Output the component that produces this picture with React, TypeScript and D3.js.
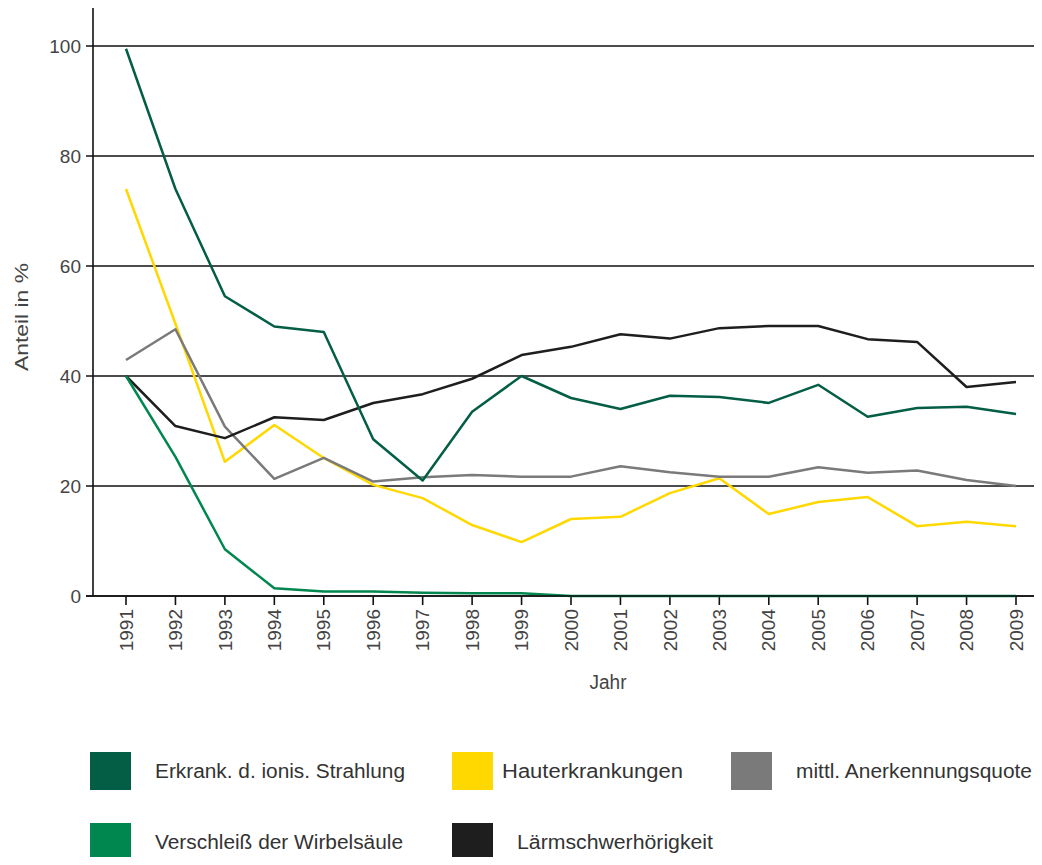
import React, { useEffect, useRef } from 'react';
import * as d3 from 'd3';

const years = [
  1991, 1992, 1993, 1994, 1995, 1996, 1997, 1998, 1999, 2000,
  2001, 2002, 2003, 2004, 2005, 2006, 2007, 2008, 2009,
];

const strahlung = [
  99.5, 74, 54.5, 49, 48, 28.5, 21, 33.5, 40, 36,
  34, 36.4, 36.2, 35.1, 38.4, 32.6, 34.2, 34.4, 33.1,
];
const haut = [
  74, 49.5, 24.4, 31.1, 25.1, 20.2, 17.8, 12.9, 9.8, 14,
  14.4, 18.7, 21.4, 14.9, 17.1, 18, 12.7, 13.5, 12.7,
];
const quote = [
  42.9, 48.5, 30.8, 21.3, 25.1, 20.8, 21.6, 22, 21.7, 21.7,
  23.6, 22.5, 21.7, 21.7, 23.4, 22.4, 22.8, 21.1, 20,
];
const wirbel = [
  40, 25.3, 8.5, 1.4, 0.8, 0.8, 0.6, 0.5, 0.5, 0,
  0, 0, 0, 0, 0, 0, 0, 0, 0,
];
const laerm = [
  40, 30.9, 28.7, 32.5, 32, 35.1, 36.7, 39.5, 43.8, 45.3,
  47.6, 46.8, 48.7, 49.1, 49.1, 46.7, 46.2, 38, 38.9,
];

const yTicks = [0, 20, 40, 60, 80, 100];

const seriesNames = [
  'Erkrank. d. ionis. Strahlung',
  'Hauterkrankungen',
  'mittl. Anerkennungsquote',
  'Verschleiß der Wirbelsäule',
  'Lärmschwerhörigkeit',
];
const seriesColors = ['#035e45', '#ffd800', '#7a7a7a', '#00874f', '#1e1e1e'];
const seriesValues = [strahlung, haut, quote, wirbel, laerm];

const W = 1042;
const H = 865;

const App: React.FC = () => {
  const ref = useRef<SVGSVGElement>(null);

  useEffect(() => {
    if (!ref.current) return;
    const svg = d3.select(ref.current);
    svg.selectAll('*').remove();

    const axisX = 93;
    const x = d3.scalePoint<number>().domain(years).range([126, 1016]);
    const y = d3.scaleLinear().domain([0, 100]).range([596, 46]);
    const font = 'Liberation Sans, Arial, sans-serif';

    // grid lines (also act as y ticks)
    svg
      .append('g')
      .selectAll('line')
      .data(yTicks)
      .enter()
      .append('line')
      .attr('x1', 86)
      .attr('x2', 1040)
      .attr('y1', (d) => y(d))
      .attr('y2', (d) => y(d))
      .attr('stroke', '#111')
      .attr('stroke-width', 1.6);

    svg
      .append('g')
      .selectAll('text')
      .data(yTicks)
      .enter()
      .append('text')
      .attr('x', 81)
      .attr('y', (d) => y(d))
      .attr('dy', '0.35em')
      .attr('text-anchor', 'end')
      .attr('font-family', font)
      .attr('font-size', 19)
      .attr('fill', '#444')
      .text((d) => d);

    // y axis line
    svg
      .append('line')
      .attr('x1', axisX)
      .attr('x2', axisX)
      .attr('y1', 7)
      .attr('y2', y(0))
      .attr('stroke', '#111')
      .attr('stroke-width', 1.6);

    // x ticks + labels
    const xg = svg.append('g');
    xg.selectAll('line')
      .data(years)
      .enter()
      .append('line')
      .attr('x1', (d) => x(d)!)
      .attr('x2', (d) => x(d)!)
      .attr('y1', y(0))
      .attr('y2', y(0) + 9)
      .attr('stroke', '#111')
      .attr('stroke-width', 1.6);
    xg.selectAll('text')
      .data(years)
      .enter()
      .append('text')
      .attr('transform', (d) => `translate(${x(d)},${y(0) + 13}) rotate(-90)`)
      .attr('text-anchor', 'end')
      .attr('dy', '0.35em')
      .attr('font-family', font)
      .attr('font-size', 19)
      .attr('fill', '#444')
      .text((d) => d);

    // lines
    const line = d3
      .line<number>()
      .x((_, i) => x(years[i])!)
      .y((d) => y(d));

    const order = [1, 2, 4, 0, 3];
    order.forEach((k) => {
      svg
        .append('path')
        .datum(seriesValues[k])
        .attr('d', line)
        .attr('fill', 'none')
        .attr('stroke', seriesColors[k])
        .attr('stroke-width', 2.5)
        .attr('stroke-linejoin', 'round');
    });

    // x axis line on top
    svg
      .append('line')
      .attr('x1', 86)
      .attr('x2', 1040)
      .attr('y1', y(0))
      .attr('y2', y(0))
      .attr('stroke', '#111')
      .attr('stroke-width', 1.6);

    // axis titles
    svg
      .append('text')
      .attr('transform', 'translate(22,317) rotate(-90)')
      .attr('text-anchor', 'middle')
      .attr('dy', '0.35em')
      .attr('font-family', font)
      .attr('font-size', 18)
      .attr('textLength', 108)
      .attr('lengthAdjust', 'spacingAndGlyphs')
      .attr('fill', '#444')
      .text('Anteil in %');

    svg
      .append('text')
      .attr('x', 608)
      .attr('y', 689)
      .attr('text-anchor', 'middle')
      .attr('font-family', font)
      .attr('font-size', 20)
      .attr('textLength', 37)
      .attr('lengthAdjust', 'spacingAndGlyphs')
      .attr('fill', '#444')
      .text('Jahr');

    // legend
    const legendPos = [
      { x: 90, y: 752 },
      { x: 452, y: 752 },
      { x: 731, y: 752 },
      { x: 90, y: 823 },
      { x: 452, y: 823 },
    ];
    const textOffset = [65, 50, 65, 65, 65];
    const textWidth = [250, 181, 236, 248, 196];
    const legend = svg
      .append('g')
      .selectAll('g')
      .data(seriesNames)
      .enter()
      .append('g')
      .attr('transform', (_, i) => `translate(${legendPos[i].x},${legendPos[i].y})`);

    legend
      .append('rect')
      .attr('width', 41)
      .attr('height', 38)
      .attr('fill', (_, i) => seriesColors[i]);

    legend
      .append('text')
      .attr('x', (_, i) => textOffset[i])
      .attr('y', 19)
      .attr('dy', '0.35em')
      .attr('font-family', font)
      .attr('font-size', 20)
      .attr('textLength', (_, i) => textWidth[i])
      .attr('lengthAdjust', 'spacingAndGlyphs')
      .attr('fill', '#333')
      .text((d) => d);

    return () => {
      svg.selectAll('*').remove();
    };
  }, []);

  return <svg ref={ref} width={W} height={H} style={{ display: 'block', margin: -8 }} />;
};

export default App;
